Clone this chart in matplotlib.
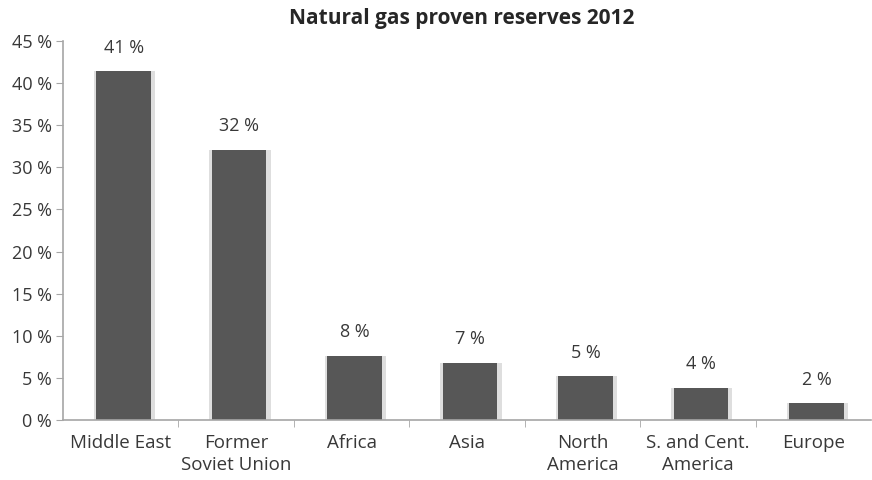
import numpy as np
import matplotlib.pyplot as plt
from matplotlib.ticker import FuncFormatter

regions = ["Middle East", "Former\nSoviet Union", "Africa", "Asia",
           "North\nAmerica", "S. and Cent.\nAmerica", "Europe"]
share = [41.4, 32.1, 7.6, 6.8, 5.2, 3.8, 2.0]
yticks = [0, 5, 10, 15, 20, 25, 30, 35, 40, 45]

plt.rcParams['font.family'] = ['Open Sans', 'DejaVu Sans']
txt = '#383838'
axis_col = '#a6a6a6'

fig = plt.figure(figsize=(8.72, 4.8), dpi=100)
ax = fig.add_axes([0.0722, 0.125, 0.927, 0.7896])

x = np.arange(len(regions))
bx = x + 0.025
# soft shadow behind each bar
ax.bar(bx + 0.008, share, width=0.53, color='#dedede', zorder=1)
ax.bar(bx, share, width=0.475, color='#575757', zorder=2)

for xi, v in zip(bx, share):
    ax.annotate('%d %%' % round(v), (xi, v), xytext=(0, 17), textcoords='offset points',
                ha='center', va='center', fontsize=13, color=txt)

ax.set_xlim(-0.5, len(regions) - 0.5)
ax.set_ylim(0, 45)
ax.set_yticks(yticks)
ax.yaxis.set_major_formatter(FuncFormatter(lambda v, p: '%d %%' % v))

ax.set_xticks(x)
ax.set_xticklabels(regions, fontsize=13.5, color=txt, linespacing=1.3)
ax.set_xticks(np.arange(0.5, len(regions) - 0.5), minor=True)
ax.tick_params(axis='x', which='major', length=0, pad=10)
ax.tick_params(axis='x', which='minor', length=5, color=axis_col, direction='out')
ax.tick_params(axis='y', length=5, color=axis_col, labelsize=13, labelcolor=txt, pad=3)

for s in ['top', 'right']:
    ax.spines[s].set_visible(False)
for s in ['left', 'bottom']:
    ax.spines[s].set_color(axis_col)
    ax.spines[s].set_linewidth(1.2)

fig.text(0.529, 0.962, 'Natural gas proven reserves 2012', ha='center', va='center',
         fontsize=15, fontweight='bold', color='#262626')

fig.savefig('out.png', dpi=100, facecolor='white')
